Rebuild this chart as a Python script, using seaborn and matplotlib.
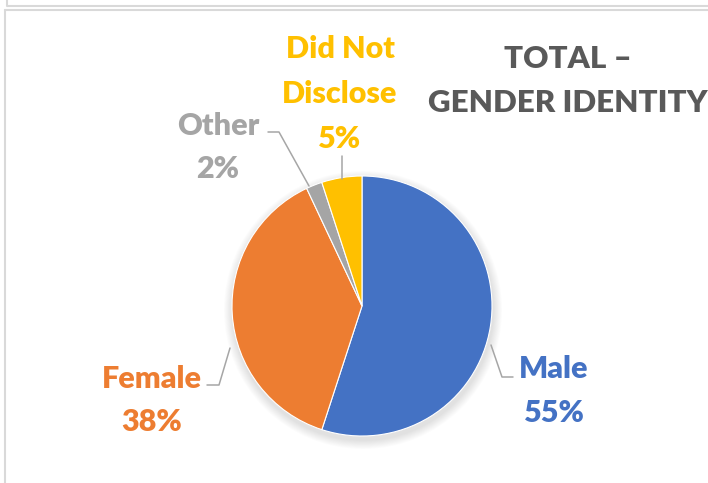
import matplotlib
matplotlib.use("Agg")
import matplotlib.pyplot as plt
from matplotlib.patches import Circle
import seaborn as sns

# Gender identity breakdown (percent of total)
categories = ["Male", "Female", "Other", "Did Not Disclose"]
values = [55, 38, 2, 5]
palette = ["#4472C4", "#ED7D31", "#A5A5A5", "#FFC000"]
title_lines = ["TOTAL \u2013", "GENDER IDENTITY"]

sns.set_theme(style="white")
plt.rcParams["font.family"] = ["Lato", "DejaVu Sans"]

W, H = 708, 483
fig = plt.figure(figsize=(W / 100, H / 100), dpi=100)
ax = fig.add_axes([0, 0, 1, 1])


def Y(y):
    return H - y


cx, cy, r = 362, Y(306), 130

# soft drop shadow below the pie
for i in range(10):
    ax.add_patch(Circle((cx + 1, cy - 4), r + 1 + i * 0.9, color="black",
                        alpha=0.012, lw=0, zorder=1))

ax.pie(values, colors=palette, startangle=90, counterclock=False,
       center=(cx, cy), radius=r, frame=True,
       wedgeprops=dict(edgecolor="white", linewidth=0.8, zorder=2))
ax.set_xlim(0, W)
ax.set_ylim(0, H)
ax.set_aspect("equal")
ax.axis("off")

# frame lines of the chart area
bc = "#D9D9D9"
ax.plot([7, W], [Y(6), Y(6)], color=bc, lw=1.5, solid_capstyle="butt")
ax.plot([7, 7], [Y(0), Y(6)], color=bc, lw=1.5)
ax.plot([5, W], [Y(10), Y(10)], color=bc, lw=1.5)
ax.plot([5, 5], [Y(10), 0], color=bc, lw=1.5)

# data labels: (x centre, baselines of each line)
fs = 22
weight = "heavy"
label_lines = {
    "Male": (["Male"], 554, [378, 422]),
    "Female": (["Female"], 152, [388, 431]),
    "Other": (["Other"], 218, [135, 178]),
    "Did Not Disclose": (["Did Not", "Disclose"], 340, [58, 103, 148]),
}
for cat, val, col in zip(categories, values, palette):
    lines, x, ys = label_lines[cat]
    for txt, y in zip(lines + [f"{val}%"], ys):
        ax.text(x, Y(y), txt, color=col, fontsize=fs, fontweight=weight,
                ha="center", va="baseline", zorder=5)

# leader lines
lc = "#A6A6A6"
ax.plot([268, 279, 309], [Y(132), Y(132), Y(186)], color=lc, lw=1.1, zorder=3)
ax.plot([342, 342], [Y(156), Y(179)], color=lc, lw=1.1, zorder=3)
ax.plot([207, 219, 230], [Y(385), Y(385), Y(348)], color=lc, lw=1.1, zorder=3)
ax.plot([491, 502, 513], [Y(345), Y(377), Y(377)], color=lc, lw=1.1, zorder=3)

# chart title (runs past the right edge of the chart area)
for txt, y in zip(title_lines, [68, 112]):
    ax.text(568, Y(y), txt, color="#595959", fontsize=22.5,
            fontweight=weight, ha="center", va="baseline", zorder=5)

fig.savefig("out.png", dpi=100)
